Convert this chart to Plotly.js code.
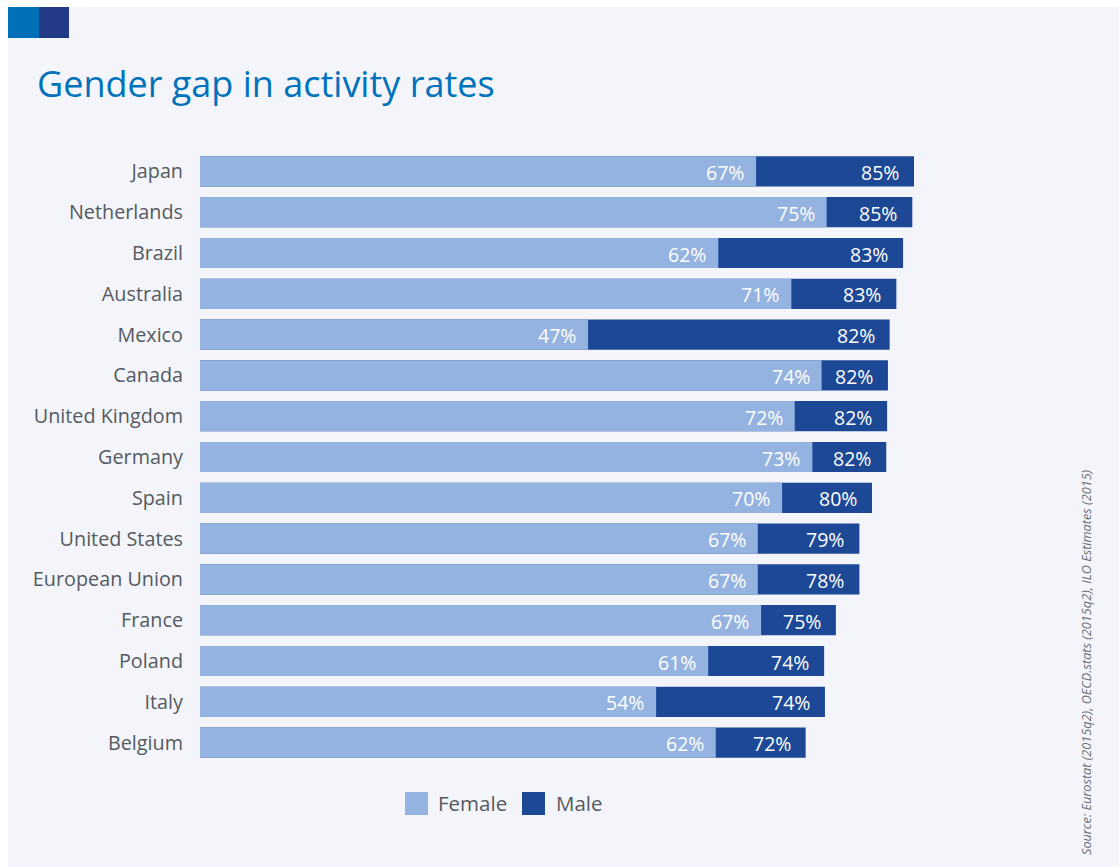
<!DOCTYPE html>
<html>
<head>
<meta charset="utf-8">
<script src="https://cdn.plot.ly/plotly-3.0.1.min.js"></script>
<style>
html,body{margin:0;padding:0;background:#ffffff;}
#chart{width:1119px;height:867px;}
</style>
</head>
<body>
<div id="chart"></div>
<script>
// ---- Data ----
var countries = ["Japan","Netherlands","Brazil","Australia","Mexico","Canada","United Kingdom","Germany","Spain","United States","European Union","France","Poland","Italy","Belgium"];
var femaleValues = [66.2,74.6,61.7,70.4,46.2,74.0,70.8,72.9,69.3,66.4,66.4,66.8,60.5,54.3,61.4];
var maleValues   = [85.0,84.8,83.7,82.9,82.1,81.9,81.8,81.7,80.0,78.5,78.5,75.7,74.3,74.4,72.1];
var femaleLabels = ["67%","75%","62%","71%","47%","74%","72%","73%","70%","67%","67%","67%","61%","54%","62%"];
var maleLabels   = ["85%","85%","83%","83%","82%","82%","82%","82%","80%","79%","78%","75%","74%","74%","72%"];
var seriesNames = ["Female","Male"];
var titleText = "Gender gap in activity rates";
var sourceText = "<i>Source: Eurostat (2015q2), OECD.stats (2015q2), ILO Estimates (2015)</i>";

// ---- Styles ----
var FEMALE = "#94b3e0", MALE = "#1c4896", BG = "#f3f5fa";
var FONT = "Open Sans, Noto Sans, sans-serif";

var traces = [
  {type:"bar", orientation:"h", name:seriesNames[1], y:countries, x:maleValues,
   marker:{color:MALE}, width:0.74, hoverinfo:"x+y", showlegend:false},
  {type:"bar", orientation:"h", name:seriesNames[0], y:countries, x:femaleValues,
   marker:{color:FEMALE}, width:0.74, hoverinfo:"x+y", showlegend:false}
];

var annotations = [];
countries.forEach(function(c,i){
  annotations.push({x:femaleValues[i], y:c, xref:"x", yref:"y", text:femaleLabels[i],
    showarrow:false, xanchor:"right", xshift:-10, yshift:-1, font:{family:FONT,size:19.5,color:"#ffffff"}});
  annotations.push({x:maleValues[i], y:c, xref:"x", yref:"y", text:maleLabels[i],
    showarrow:false, xanchor:"right", xshift:-13, yshift:-1, font:{family:FONT,size:19.5,color:"#ffffff"}});
});

// paper coords helpers (plot area: px 200..1040, py 151..763)
function px(v){return (v-200)/840;}
function py(v){return (763-v)/612;}

// legend (manual)
annotations.push({xref:"paper",yref:"paper",x:px(436),y:py(803),xanchor:"left",yanchor:"middle",
  text:seriesNames[0],showarrow:false,font:{family:FONT,size:20.5,color:"#555a60"}});
annotations.push({xref:"paper",yref:"paper",x:px(554),y:py(803),xanchor:"left",yanchor:"middle",
  text:seriesNames[1],showarrow:false,font:{family:FONT,size:20.5,color:"#555a60"}});
// title
annotations.push({xref:"paper",yref:"paper",x:px(35),y:py(84),xanchor:"left",yanchor:"middle",
  text:titleText,showarrow:false,font:{family:FONT,size:36,color:"#0072bc"}});
// source
annotations.push({xref:"paper",yref:"paper",x:px(1086),y:py(662),xanchor:"center",yanchor:"middle",
  text:sourceText,textangle:-90,showarrow:false,font:{family:FONT,size:12.7,color:"#6b6f75"}});

var shapes = [
  {type:"rect",xref:"paper",yref:"paper",x0:px(8),x1:px(1119),y0:py(7),y1:py(867),
   fillcolor:BG,line:{width:0},layer:"below"},
  {type:"rect",xref:"paper",yref:"paper",x0:px(8),x1:px(39),y0:py(7),y1:py(38),
   fillcolor:"#0070b8",line:{width:0},layer:"below"},
  {type:"rect",xref:"paper",yref:"paper",x0:px(39),x1:px(69),y0:py(7),y1:py(38),
   fillcolor:"#233b87",line:{width:0},layer:"below"},
  {type:"rect",xref:"paper",yref:"paper",x0:px(405),x1:px(428),y0:py(792),y1:py(815),
   fillcolor:FEMALE,line:{width:0}},
  {type:"rect",xref:"paper",yref:"paper",x0:px(522),x1:px(545),y0:py(792),y1:py(815),
   fillcolor:MALE,line:{width:0}}
];

var layout = {
  width:1119, height:867,
  paper_bgcolor:"#ffffff", plot_bgcolor:BG,
  margin:{l:200,r:79,t:151,b:104},
  barmode:"overlay",
  bargap:0.26,
  showlegend:false,
  xaxis:{range:[0,100], showgrid:false, zeroline:false, showticklabels:false, ticks:"", fixedrange:true},
  yaxis:{type:"category", categoryorder:"array", categoryarray:countries, range:[14.5,-0.5],
    showgrid:false, zeroline:false, ticks:"", ticklabelstandoff:16,
    tickfont:{family:FONT,size:19.8,color:"#555a60"}, fixedrange:true},
  annotations:annotations,
  shapes:shapes
};

Plotly.newPlot("chart", traces, layout, {displayModeBar:false, staticPlot:true});
</script>
</body>
</html>
